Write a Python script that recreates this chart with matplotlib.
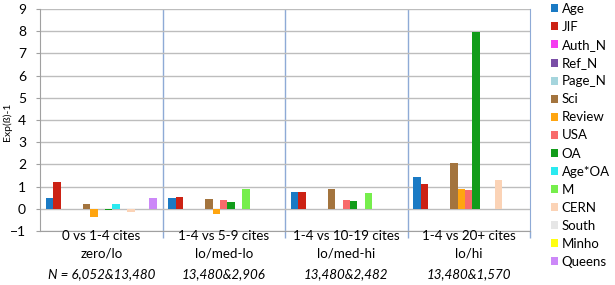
import matplotlib.pyplot as plt
import matplotlib.transforms as mtransforms
import numpy as np

plt.rcParams['font.family'] = ['Lato', 'DejaVu Sans']

series = ["Age", "JIF", "Auth_N", "Ref_N", "Page_N", "Sci", "Review", "USA",
          "OA", "Age*OA", "M", "CERN", "South", "Minho", "Queens"]
colors = ["#1a7ac4", "#cc2214", "#f53cf0", "#7a4ea6", "#a5d5dd", "#a3743e",
          "#ffa510", "#f86b6b", "#129c1a", "#2aeaf0", "#76ee4c", "#fbd3b6",
          "#e6e6e6", "#ffff10", "#cc88f8"]

line1 = ["0 vs 1-4 cites", "1-4 vs 5-9 cites", "1-4 vs 10-19 cites", "1-4 vs 20+ cites"]
line2 = ["zero/lo", "lo/med-lo", "lo/med-hi", "lo/hi"]
line3 = ["N = 6,052&13,480", "13,480&2,906", "13,480&2,482", "13,480&1,570"]

# one row per series, one column per comparison
values = np.array([
    [0.48, 0.47, 0.77, 1.44],    # Age
    [1.20, 0.51, 0.76, 1.10],    # JIF
    [0.0, 0.0, 0.0, 0.0],        # Auth_N
    [0.0, 0.0, 0.0, 0.0],        # Ref_N
    [0.0, 0.0, 0.0, 0.0],        # Page_N
    [0.23, 0.45, 0.88, 2.05],    # Sci
    [-0.35, -0.25, 0.0, 0.90],   # Review
    [0.0, 0.40, 0.40, 0.84],     # USA
    [-0.04, 0.30, 0.37, 7.95],   # OA
    [0.20, 0.0, 0.0, 0.0],       # Age*OA
    [0.0, 0.90, 0.72, 0.0],      # M
    [-0.16, 0.0, 0.0, 1.30],     # CERN
    [0.0, 0.0, 0.0, 0.0],        # South
    [0.0, 0.0, 0.0, 0.0],        # Minho
    [0.47, 0.0, 0.0, 0.0],       # Queens
])

fig = plt.figure(figsize=(6.15, 2.85), dpi=100)
ax = fig.add_axes([40/615, 54/285, 490/615, 222/285])

x = np.arange(len(line1))
w = 0.0604
for j, name in enumerate(series):
    ax.bar(x + (j - 7) * w, values[j], w, color=colors[j], label=name, zorder=3)

ax.set_xlim(-0.5, 3.5)
ax.set_ylim(-1, 9)
ax.set_yticks(range(-1, 10))
ax.tick_params(axis='y', length=3, color='#a0a0a0', labelsize=10, pad=7)
ax.grid(axis='y', color='#bdbdbd', lw=1, zorder=0)
ax.set_xticks([])
ax.set_xticks([0.5, 1.5, 2.5, 3.5], minor=True)
ax.tick_params(axis='x', which='minor', length=5, color='#8eaad6', width=1)
for b in [0.5, 1.5, 2.5]:
    ax.axvline(b, color='#8eaad6', lw=1, zorder=1)

ax.spines['top'].set_visible(False)
ax.spines['left'].set_color('#a0a0a0')
ax.spines['bottom'].set_color('#a0a0a0')
ax.spines['right'].set_color('#8eaad6')

ax.set_ylabel("Exp(ß)-1", fontsize=7.5)
ax.yaxis.set_label_coords(-28/490, 0.49)

trans = mtransforms.blended_transform_factory(ax.transData, fig.transFigure)
for i in range(len(line1)):
    ax.text(x[i], 1 - 236/285, line1[i], transform=trans, ha='center', va='center', fontsize=9.6)
    ax.text(x[i], 1 - 254/285, line2[i], transform=trans, ha='center', va='center', fontsize=9.6)
    ax.text(x[i], 1 - 274/285, line3[i], transform=trans, ha='center', va='center',
            fontsize=9.6, style='italic')

ax.legend(loc='upper left', bbox_to_anchor=(551/615, 1 - 3/285), bbox_transform=fig.transFigure,
          frameon=False, fontsize=9.5, handlelength=0.55, handleheight=0.55,
          handletextpad=0.25, labelspacing=0.46, borderpad=0, borderaxespad=0)

fig.savefig("out.png", dpi=100)
